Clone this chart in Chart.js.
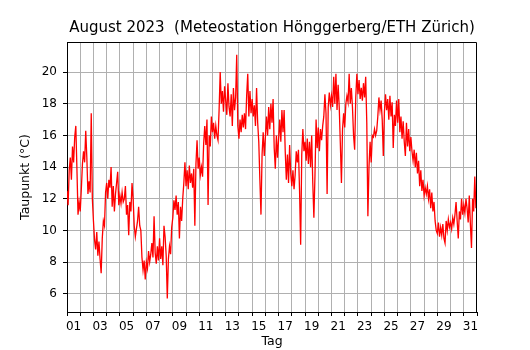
<!DOCTYPE html>
<html>
<head>
<meta charset="utf-8">
<script src="https://cdn.jsdelivr.net/npm/chart.js@4.4.0/dist/chart.umd.min.js"></script>
<style>
    html, body { margin: 0; padding: 0; background: #fff; }
    canvas { display: block; }
</style>
</head>
<body>
<canvas id="dewChart" width="530" height="350"></canvas>
<script>
/* ======================================
   DATA
====================================== */
const chartTitle = "August 2023  (Meteostation Hönggerberg/ETH Zürich)";
const xTitle = "Tag";
const yTitle = "Taupunkt (°C)";

const dayLabels = ["01", "02", "03", "04", "05", "06", "07", "08", "09", "10",
                   "11", "12", "13", "14", "15", "16", "17", "18", "19", "20",
                   "21", "22", "23", "24", "25", "26", "27", "28", "29", "30", "31"];
const yTicks = [6, 8, 10, 12, 14, 16, 18, 20];

const hoursPerSample = 2;   // one value every 2 hours, starting at 00:00

// dew point in °C, one row per day of August
const dewPoint = [
    [12.5, 11.6, 13.8, 14.6, 13.2, 15.3, 14.3, 15.9, 16.6, 13.9, 11.0, 11.8],  // 01
    [11.2, 12.6, 14.2, 15.0, 14.3, 16.3, 14.6, 12.3, 13.1, 12.4, 17.4, 12.0],  // 02
    [10.6,  9.4,  8.8,  9.9,  8.4,  9.3,  8.2,  7.3,  9.5, 10.6, 10.3, 12.4],  // 03
    [13.0, 12.0, 13.2, 12.7, 14.0, 11.5, 12.8, 11.2, 12.3, 13.0, 13.7, 11.6],  // 04
    [12.2, 11.7, 12.4, 11.8, 12.0, 12.8, 11.0, 11.6,  9.7, 11.8, 11.2, 13.0],  // 05
    [12.0, 10.3,  9.6, 10.1, 10.6, 11.5, 10.3, 10.0,  8.3,  7.5,  8.1,  6.9],  // 06
    [ 8.0,  7.6,  8.7,  8.0,  8.5,  9.2,  8.3, 10.9,  8.6,  7.9,  9.0,  8.1],  // 07
    [ 9.5,  8.2,  9.0,  7.8, 10.3,  9.6,  8.4,  5.7,  8.2,  9.0,  8.5, 10.2],  // 08
    [10.8, 11.9, 11.3, 12.2, 11.0, 11.8,  9.5, 11.5, 10.6, 12.0, 13.0, 14.3],  // 09
    [12.8, 13.8, 12.6, 14.1, 13.0, 13.6, 12.7, 13.9, 10.3, 14.2, 15.7, 13.9],  // 10
    [14.6, 13.5, 14.0, 13.4, 15.5, 16.6, 15.4, 17.0, 11.6, 16.0, 15.3, 17.2],  // 11
    [16.2, 16.8, 15.8, 16.6, 16.0, 15.7, 17.6, 20.0, 18.0, 18.8, 17.5, 19.1],  // 12
    [18.2, 17.3, 19.3, 17.8, 17.2, 18.6, 16.6, 19.0, 17.6, 18.4, 21.1, 16.6],  // 13
    [15.8, 17.0, 16.2, 17.3, 16.5, 17.4, 16.4, 18.5, 19.9, 17.2, 18.8, 17.4],  // 14
    [18.3, 17.2, 17.9, 16.6, 19.0, 16.8, 15.6, 13.2, 11.0, 14.8, 16.2, 14.7],  // 15
    [15.9, 17.2, 16.0, 17.8, 16.4, 18.0, 16.8, 18.3, 15.2, 13.9, 16.0, 14.6],  // 16
    [15.8, 17.0, 15.6, 17.6, 16.2, 17.6, 15.0, 13.2, 14.8, 13.0, 15.4, 13.6],  // 17
    [12.8, 13.8, 12.6, 13.5, 15.0, 14.3, 15.1, 12.5,  9.1, 14.8, 16.4, 15.0],  // 18
    [15.6, 14.4, 15.8, 14.2, 15.6, 14.0, 16.0, 13.0, 10.8, 13.5, 17.0, 15.2],  // 19
    [16.5, 15.0, 16.4, 15.7, 16.6, 17.2, 18.6, 17.4, 12.3, 17.8, 18.7, 17.9],  // 20
    [18.5, 17.8, 19.7, 18.0, 19.9, 17.6, 19.2, 17.8, 15.5, 13.0, 16.4, 17.4],  // 21
    [16.5, 18.0, 18.5, 18.1, 19.9, 18.0, 19.0, 17.8, 16.0, 15.1, 18.4, 19.9],  // 22
    [18.6, 19.5, 18.3, 19.0, 18.2, 19.3, 18.4, 19.7, 16.8, 10.9, 14.0, 15.6],  // 23
    [14.3, 16.0, 15.9, 16.4, 16.0, 16.3, 17.2, 18.4, 17.6, 18.2, 17.0, 14.7],  // 24
    [17.5, 18.6, 17.6, 18.3, 17.0, 18.5, 17.2, 18.1, 15.2, 17.3, 16.6, 18.2],  // 25
    [16.8, 18.3, 16.2, 17.2, 15.8, 16.9, 15.6, 14.7, 16.8, 15.3, 16.4, 15.0],  // 26
    [15.9, 15.0, 14.4, 15.1, 14.0, 14.9, 13.6, 14.4, 12.8, 13.8, 12.5, 13.2],  // 27
    [12.2, 12.7, 12.3, 12.8, 12.0, 12.6, 11.4, 12.4, 11.2, 11.8, 10.6, 10.0],  // 28
    [ 9.8, 10.5,  9.6, 10.2,  9.7, 10.4,  9.5,  9.2, 10.6, 10.0, 10.7, 10.2],  // 29
    [10.5, 10.1, 10.8, 10.4, 11.0, 11.8, 10.6,  9.5, 11.2, 10.7, 12.0, 11.0],  // 30
    [11.6, 11.1, 12.0, 11.4, 10.5, 12.2, 10.4,  8.9, 12.0, 11.2, 13.4, 11.4]   // 31
];


/* ======================================
   BUILD POINTS (x = days since Aug 1, 00:00)
====================================== */
const points = [];
dewPoint.forEach((row, d) => {
    row.forEach((v, k) => {
        points.push({ x: d + k * hoursPerSample / 24, y: v });
    });
});

const FONT = "DejaVu Sans";
const GRID = "#b0b0b0";
const NONE = "rgba(0,0,0,0)";


/* ======================================
   PLUGINS: centred title + top/right frame
====================================== */
const titlePlugin = {
    id: "plotTitle",
    afterDraw(chart) {
        const { ctx, chartArea } = chart;
        ctx.save();
        ctx.font = `15px "${FONT}"`;
        ctx.fillStyle = "#000";
        ctx.textAlign = "center";
        ctx.textBaseline = "middle";
        ctx.fillText(chartTitle, (chartArea.left + chartArea.right) / 2, 28);
        ctx.restore();
    }
};

const framePlugin = {
    id: "frame",
    afterDraw(chart) {
        const { ctx, chartArea } = chart;
        const top = Math.round(chartArea.top) + 0.5;
        const right = Math.round(chartArea.right) - 0.5;
        ctx.save();
        ctx.strokeStyle = "#000";
        ctx.lineWidth = 1;
        ctx.beginPath();
        ctx.moveTo(chartArea.left, top);
        ctx.lineTo(right, top);
        ctx.lineTo(right, chartArea.bottom);
        ctx.stroke();
        ctx.restore();
    }
};


/* ======================================
   CHART
====================================== */
const ctx = document.getElementById("dewChart").getContext("2d");

new Chart(ctx, {
    type: "line",
    data: {
        datasets: [{
            label: yTitle,
            data: points,
            borderColor: "#ff0000",
            borderWidth: 1.3,
            pointRadius: 0,
            tension: 0,
            fill: false
        }]
    },
    options: {
        responsive: false,
        devicePixelRatio: 1,
        animation: false,
        layout: { padding: { left: 0, right: 53, top: 42, bottom: 0 } },
        plugins: {
            legend: { display: false },
            tooltip: { enabled: false }
        },
        scales: {
            x: {
                type: "linear",
                min: 0,
                max: dayLabels.length,
                afterBuildTicks: s => {
                    s.ticks = [];
                    for (let i = 0; i <= dayLabels.length * 2; i++) s.ticks.push({ value: i / 2 });
                },
                afterFit: s => { s.height = 38; },
                grid: {
                    color: c => (c.tick && Number.isInteger(c.tick.value) && c.tick.value > 0 && c.tick.value < dayLabels.length) ? GRID : NONE,
                    tickColor: c => (c.tick && Number.isInteger(c.tick.value)) ? "#000" : NONE,
                    tickLength: 4,
                    lineWidth: 1
                },
                border: { color: "#000", width: 1 },
                ticks: {
                    autoSkip: false,
                    maxRotation: 0,
                    padding: 4,
                    color: "#000",
                    font: { family: FONT, size: 12 },
                    callback: v => {
                        const day = v + 0.5;
                        return (Number.isInteger(day) && day % 2 === 1) ? dayLabels[day - 1] : "";
                    }
                },
                title: {
                    display: true,
                    text: xTitle,
                    color: "#000",
                    font: { family: FONT, size: 12.5 },
                    padding: { top: 0, bottom: 1 }
                }
            },
            y: {
                min: 4.85,
                max: 21.9,
                afterBuildTicks: s => { s.ticks = yTicks.map(v => ({ value: v })); },
                afterFit: s => { s.width = 67; },
                grid: { color: GRID, tickColor: "#000", tickLength: 4, lineWidth: 1 },
                border: { color: "#000", width: 1 },
                ticks: {
                    padding: 6,
                    color: "#000",
                    font: { family: FONT, size: 12 },
                    callback: v => String(v)
                },
                title: {
                    display: true,
                    text: yTitle,
                    color: "#000",
                    font: { family: FONT, size: 12.5 },
                    padding: { top: 18, bottom: 0 }
                }
            }
        }
    },
    plugins: [titlePlugin, framePlugin]
});
</script>
</body>
</html>
